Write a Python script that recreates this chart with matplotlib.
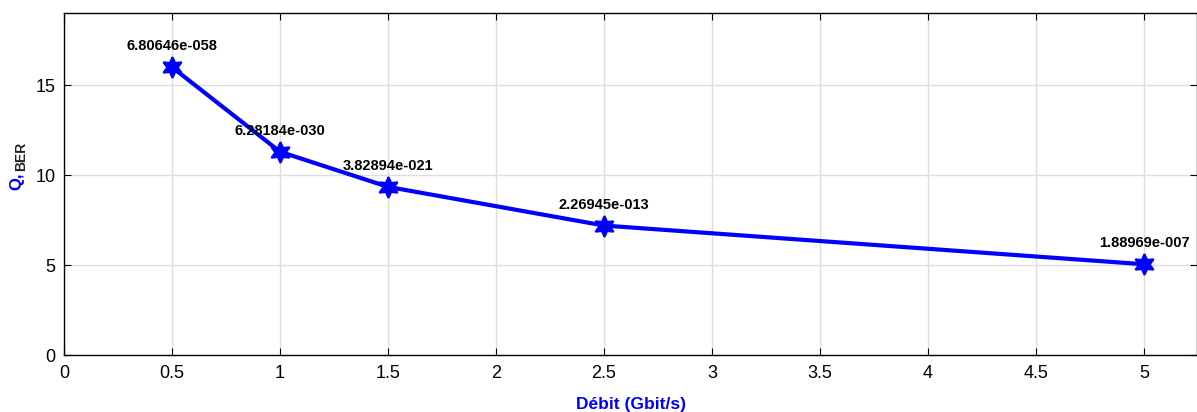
import numpy as np
import matplotlib.pyplot as plt

plt.rcParams['font.family'] = ['Liberation Sans', 'DejaVu Sans']

debit = [0.5, 1, 1.5, 2.5, 5]
q_factor = [16.0, 11.3, 9.35, 7.2, 5.05]
ber_labels = ['6.80646e-058', '6.28184e-030', '3.82894e-021',
              '2.26945e-013', '1.88969e-007']

fig = plt.figure(figsize=(11.97, 4.12), dpi=100)
ax = fig.add_axes([0.0535, 0.138, 0.9465, 0.83])

# hexagram marker, like matlab 'h'
ax.plot(debit, q_factor, color='blue', linewidth=3, marker=(6, 1, 0),
        markersize=15, markeredgewidth=1.5)

for x, y, s in zip(debit, q_factor, ber_labels):
    ax.annotate(s, (x, y), xytext=(0, 10), textcoords='offset points',
                ha='center', va='bottom', fontsize=10.5, fontweight='bold')

ax.set_xlim(0, 5.245)
ax.set_ylim(0, 19)
ax.set_xticks(np.arange(0, 5.5, 0.5))
ax.set_xticklabels(['0', '0.5', '1', '1.5', '2', '2.5', '3', '3.5', '4', '4.5', '5'])
ax.set_yticks([0, 5, 10, 15])
ax.tick_params(direction='in', length=5, labelsize=13, top=True, right=True)
ax.tick_params(axis='x', pad=7)
ax.tick_params(axis='y', pad=6)
ax.grid(True, color='#dddddd', linewidth=1)
for sp in ax.spines.values():
    sp.set_linewidth(1)

ax.set_xlabel('Débit (Gbit/s)', color='blue', fontweight='bold', fontsize=12.5, labelpad=11)
fig.text(0.0075, 0.56, 'Q,', color='blue', fontweight='bold', fontsize=12,
         rotation=90, ha='left', va='center')
fig.text(0.0115, 0.62, 'BER', color='#222222', fontweight='bold', fontsize=10,
         rotation=90, ha='left', va='center')

fig.savefig('out.png', dpi=100)
